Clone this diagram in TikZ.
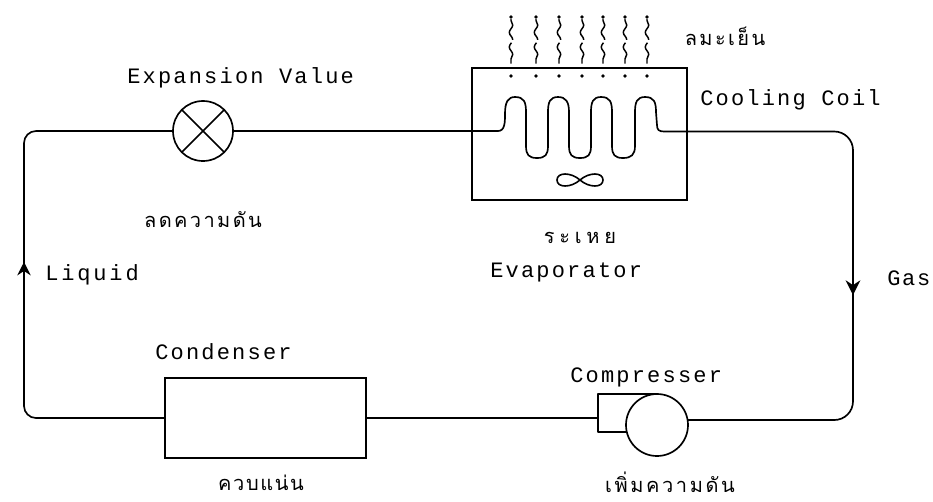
\documentclass[tikz,border=0pt]{standalone}
\usepackage{fontspec}
\setmainfont{Liberation Mono}
\newfontfamily\thaifont[Script=Thai]{Loma}
\usetikzlibrary{decorations.pathmorphing,arrows.meta}
\tikzset{
  pipe/.style={line width=1.25pt,line join=round},
  lat/.style={inner sep=0pt,font=\fontsize{16.5}{18}\selectfont\addfontfeature{LetterSpace=#1},anchor=west},
  lat/.default=10,
  tha/.style={inner sep=0pt,font=\thaifont\fontsize{15}{18}\selectfont\addfontfeature{LetterSpace=#1}},
  boxn/.style={draw,line width=1.25pt,inner sep=0pt,outer sep=0pt,minimum width=#1},
  roundn/.style={circle,draw,line width=1.25pt,inner sep=0pt,outer sep=0pt,minimum size=#1},
  wavy/.style={line width=1.1pt,dash pattern=on 17pt off 2.5pt,decorate,decoration={snake,amplitude=1.3pt,segment length=11pt,pre length=1pt,post length=1pt}},
  airdot/.style={circle,fill,inner sep=0pt,minimum size=2.8pt},
  flow/.style={line width=1.25pt,-{Stealth[length=#1,width=#1]}}
}
\begin{document}
\begin{tikzpicture}[x=0.75pt,y=-0.75pt]
\useasboundingbox (0,0) rectangle (933,501);
% components
\node[roundn=45pt] (valve) at (203,131) {};
\draw[pipe] (valve.north west) -- (valve.south east);
\draw[pipe] (valve.north east) -- (valve.south west);
\node[boxn=161.25pt,minimum height=99pt] (evap) at (579.5,134) {};
\node[boxn=150.75pt,minimum height=60pt] (cond) at (265.5,418) {};
\node[roundn=46.5pt] (comp) at (657,425) {};
% compressor housing
\coordinate (housW) at (598,418);
\coordinate (housTL) at (comp.north -| housW);
\coordinate (housBL) at (598,432);
\coordinate (housBR) at (627,432);
\draw[pipe] (comp.north) -- (housTL) -- (housBL) -- (housBR);
% coil
\coordinate (coilIn) at (valve.east -| evap.west);
\coordinate (coilOut) at (687,131.5);
\draw[pipe] (coilIn) -- (498,131)
  .. controls (505,131) and (505,122) .. (505,114)
  .. controls (505,102) and (508,97) .. (515,97)
  .. controls (524,97) and (526,102) .. (526,112)
  -- (526,146)
  .. controls (526,155) and (529,158) .. (537,158)
  .. controls (545,158) and (548,155) .. (548,146)
  -- (548,112)
  .. controls (548,102) and (550,97) .. (558,97)
  .. controls (566,97) and (569,102) .. (569,112)
  -- (569,146)
  .. controls (569,155) and (572,158) .. (580,158)
  .. controls (588,158) and (591,155) .. (591,146)
  -- (591,112)
  .. controls (591,102) and (593,97) .. (601,97)
  .. controls (610,97) and (612,102) .. (612,112)
  -- (612,146)
  .. controls (612,155) and (615,158) .. (623,158)
  .. controls (631,158) and (635,155) .. (635,146)
  -- (635,112)
  .. controls (635,102) and (637,97) .. (645,97)
  .. controls (654,97) and (656,102) .. (656,112)
  -- (657,125) .. controls (657,130) and (659,131.5) .. (664,131.5) -- (coilOut);
% fan
\coordinate (fan) at (580,180);
\draw[line width=1.2pt] (fan) .. controls (571,172) and (557,172) .. (557,180)
  .. controls (557,188) and (571,188) .. (fan)
  .. controls (589,172) and (603,172) .. (603,180)
  .. controls (603,188) and (589,188) .. (fan);
% connectors
\coordinate (cornerTL) at (24,131);
\coordinate (cornerBL) at (24,418);
\coordinate (cornerTR) at (853,131.5);
\coordinate (cornerBR) at (853,420);
\coordinate (compOut) at (688,420);
\draw[pipe] (valve.east) -- (coilIn);
\draw[pipe,rounded corners=9pt] (valve.west) -- (cornerTL) -- (cornerBL) -- (cond.west);
\draw[pipe] (cond.east) -- (housW);
\draw[pipe,rounded corners=14pt] (coilOut) -- (cornerTR) -- (cornerBR) -- (compOut);
% flow arrows
\coordinate (arrL) at (24,262);
\coordinate (arrR) at (853,295);
\draw[flow=10pt] (24,280) -- (arrL);
\draw[flow=11pt] (853,275) -- (arrR);
% air
\foreach \x/\n in {511/1,536/2,559/3,582/4,603/5,625/6,647/7}{
  \node[airdot] (top\n) at (\x,17) {};
  \node[airdot] (low\n) at (\x,76) {};
  \draw[wavy] (top\n) -- (\x,64);
}
% labels
\node[lat] (t1) at (127,78) {Expansion Value};
\node[tha=12] (t2) at (203,220) {ลดความดัน};
\node[lat=13] (t3) at (45,275) {Liquid};
\node[tha=24] (t4) at (580,238) {ระเหย};
\node[lat] (t5) at (490,272) {Evaporator};
\node[lat=8] (t6) at (887,278) {Gas};
\node[lat] (t7) at (155,352) {Condenser};
\node[tha=8] (t8) at (261,483) {ควบแน่น};
\node[tha=13] (t10) at (670,482) {เพิ่มความดัน};
\node[lat] (t9) at (570,377) {Compresser};
\node[tha=12] (t11) at (725,36) {ลมะเย็น};
\node[lat] (t12) at (700,100) {Cooling Coil};
\end{tikzpicture}
\end{document}
